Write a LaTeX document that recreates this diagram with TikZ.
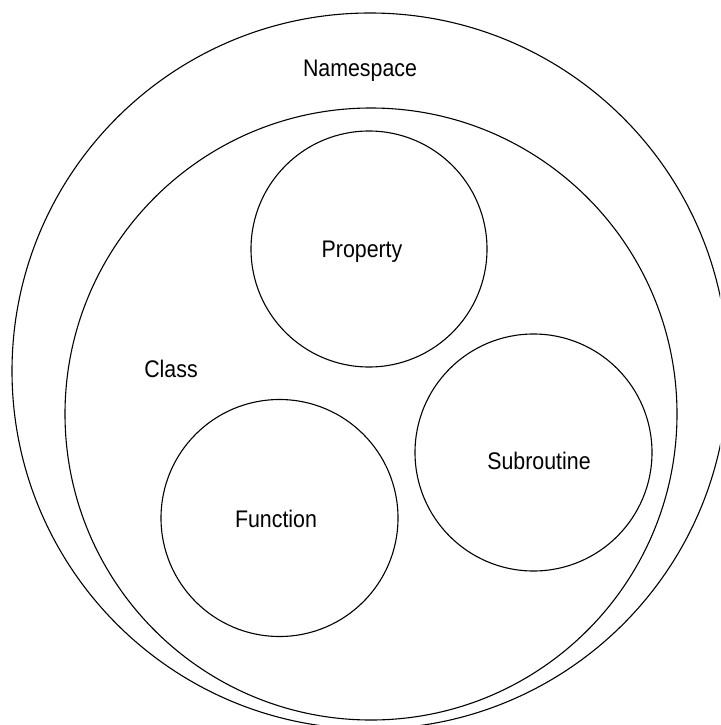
\documentclass[tikz,border=0pt]{standalone}
\usepackage{fontspec}
\setmainfont[FakeStretch=0.89]{Liberation Sans}
\begin{document}
\begin{tikzpicture}[x=1pt,y=-1pt,
  ring/.style={circle,draw=black,line width=1.1pt,inner sep=0pt,outer sep=0pt,minimum size=#1},
  lbl/.style={anchor=base,inner sep=0pt,font=\fontsize{24}{28}\selectfont}]
\useasboundingbox (0,0) rectangle (720,725);
\clip (0,0) rectangle (720,725);
\node[ring=716pt] (namespace) at (370,371) {};
\node[ring=612pt] (class) at (371,414) {};
\node[ring=236pt] (property) at (369,249) {};
\node[ring=237pt] (subroutine) at (533.5,452.5) {};
\node[ring=237pt] (function) at (279.5,518) {};
\node[lbl] (tnamespace) at (360,77) {Namespace};
\node[lbl] (tclass) at (171,377) {Class};
\node[lbl] (tproperty) at (362,257.5) {Property};
\node[lbl] (tsubroutine) at (539,469) {Subroutine};
\node[lbl] (tfunction) at (276,527.5) {Function};
\end{tikzpicture}
\end{document}
